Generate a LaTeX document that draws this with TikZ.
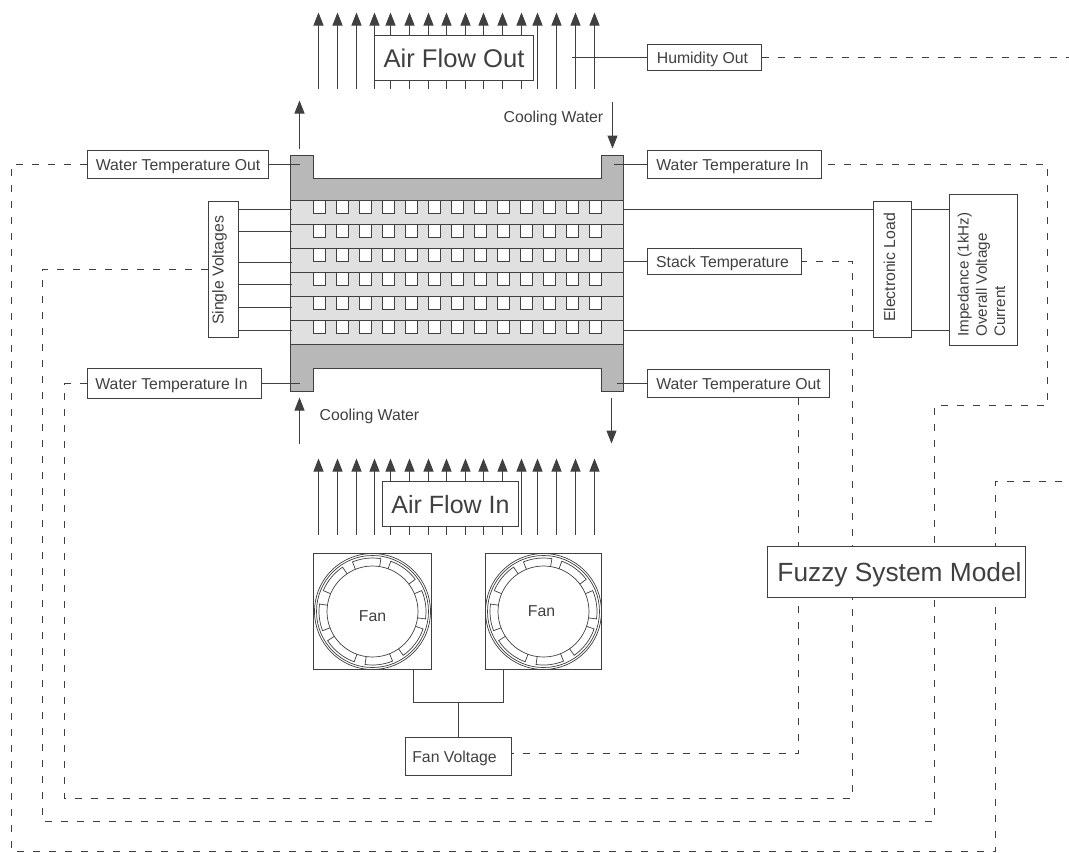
\documentclass[tikz,border=0pt]{standalone}
\usepackage{fontspec}
\setmainfont{Liberation Sans}
\usetikzlibrary{arrows.meta,calc}
\definecolor{ink}{HTML}{404040}
\definecolor{plate}{HTML}{B8B8B8}
\definecolor{cell}{HTML}{E0E0E0}
\newcommand{\smallfs}{\fontsize{15.8}{18.3}\selectfont}
\newcommand{\bigfs}{\fontsize{25.6}{30}\selectfont}
\tikzset{
  line/.style={draw=ink,line width=1pt},
  thinline/.style={draw=ink,line width=0.7pt},
  dashline/.style={draw=ink,line width=1pt,dash pattern=on 7pt off 9pt},
  flow/.style={draw=ink,line width=1pt,-{Triangle[length=13pt,width=10pt]}},
  box/.style={draw=ink,line width=1pt,fill=white,text=ink,inner sep=0pt,font=\smallfs,text height=11pt,text depth=0pt},
  bigbox/.style={box,font=\bigfs,text height=18.4pt},
  lbl/.style={text=ink,inner sep=0pt,font=\smallfs,text height=11pt,text depth=0pt},
}
\newcommand{\sizedbox}[7][box]{% style,name,x1,y1,x2,y2,text
  \node[#1,minimum width=#5pt-#3pt,minimum height=#6pt-#4pt] (#2) at ({(#3+#5)/2},{(#4+#6)/2}) {#7};}
\newcommand{\fanrotor}[2]{%
  \begin{scope}[shift={(#1,#2)},x=1pt,y=1pt]
    \draw[thinline] circle[radius=58];
    \draw[thinline] circle[radius=56];
    \draw[thinline] circle[radius=45.5];
    \foreach \a/\b in {112/81,70/37,23/-8,-19/-55,-68/-98,-110/-147,-159/-188,157/124}{
      \draw[thinline] (\a:45.5) -- (\a:53.5) arc[start angle=\a,end angle=\b,radius=53.5] -- (\b:45.5);
    }
  \end{scope}}
\begin{document}
\begin{tikzpicture}[x=1pt,y=-1pt,shift={(0.5,0.5)}]
\useasboundingbox (-0.5,-0.5) rectangle (1068.5,851.5);
% air flow arrows
\foreach \n/\x in {1/318,2/337,3/356,4/374,5/390,6/409,7/428,8/446,9/465,10/483,11/502,12/521,13/537,14/556,15/575,16/594}{
  \coordinate (ot\n) at (\x,12); \coordinate (ob\n) at (\x,88);
  \coordinate (it\n) at (\x,458); \coordinate (ib\n) at (\x,534);
  \draw[flow] (ob\n) -- (ot\n);
  \draw[flow] (ib\n) -- (it\n);
}
\sizedbox[bigbox]{airout}{374}{35}{533}{80}{Air Flow Out}
\sizedbox[bigbox]{airin}{382}{481}{518}{526}{\fontsize{25}{30}\selectfont Air Flow In}
% stack
\foreach \y in {200,224,248,272,296,320}{
  \fill[cell] (290,\y) rectangle (623,\y+24);
  \foreach \k in {0,...,12}{
    \draw[line,fill=white] (313+23*\k,\y) -- (313+23*\k,\y+13) -- (325+23*\k,\y+13) -- (325+23*\k,\y);
  }
  \draw[line] (290,\y) -- (623,\y);
}
\draw[line] (290,200) -- (290,344) (623,200) -- (623,344);
\draw[line,fill=plate] (290,155) -- (313,155) -- (313,178) -- (601,178) -- (601,155) -- (623,155) -- (623,200) -- (290,200) -- cycle;
\draw[line,fill=plate] (290,391) -- (313,391) -- (313,368) -- (601,368) -- (601,391) -- (623,391) -- (623,344) -- (290,344) -- cycle;
% boxes
\sizedbox{humid}{647}{44}{761}{70}{Humidity Out\hspace*{4pt}}
\sizedbox{wtol}{87}{150}{268}{178}{Water Temperature Out}
\sizedbox{wtir}{647}{150}{821}{178}{Water Temperature In\hspace*{4pt}}
\sizedbox{wtil}{87}{368}{261}{398}{Water Temperature In\hspace*{6pt}}
\sizedbox{wtor}{647}{369}{829}{397}{Water Temperature Out}
\sizedbox{stemp}{647}{248}{801}{274}{Stack Temperature\hspace*{4pt}}
\sizedbox{sv}{208}{201}{238}{337}{}
\node[lbl,rotate=90] (svt) at (217.5,270) {Single Voltages};
\sizedbox{eload}{873}{201}{911}{337}{}
\node[lbl,rotate=90] (eloadt) at (889,267) {Electronic Load};
\sizedbox{imp}{949}{194}{1017}{345}{}
\node[text=ink,inner sep=0pt,font=\fontsize{15.2}{18.3}\selectfont,rotate=90,align=left,anchor=center] (impt) at (981,274) {Impedance (1kHz)\\Overall Voltage\\Current};
\sizedbox{fanv}{405}{737}{511}{775}{Fan Voltage\hspace*{8pt}}
\sizedbox{fanA}{313}{553}{431}{669}{}
\sizedbox{fanB}{485}{553}{601}{669}{}
\fanrotor{372}{611}
\fanrotor{543}{611}
\node[lbl] (fanAl) at (372,615) {Fan};
\node[lbl] (fanBl) at (541,610.5) {Fan};
% labels
\node[lbl] (cw1) at (553,116.5) {Cooling Water};
\node[lbl] (cw2) at (369,414.5) {Cooling Water};
% water arrows
\coordinate (wa1) at (299,148); \coordinate (wa2) at (299,100);
\coordinate (wa3) at (612,101); \coordinate (wa4) at (612,148);
\coordinate (wa5) at (299,443); \coordinate (wa6) at (299,397);
\coordinate (wa7) at (611,397); \coordinate (wa8) at (611,443);
\draw[flow] (wa1) -- (wa2);
\draw[flow] (wa3) -- (wa4);
\draw[flow] (wa5) -- (wa6);
\draw[flow] (wa7) -- (wa8);
% solid connectors
\coordinate (hs) at (571,57);
\draw[line] (humid.west) -- (hs);
\coordinate (pTL) at (299,164); \coordinate (pTR) at (613,164);
\coordinate (pBL) at (299,383); \coordinate (pBR) at (616,383);
\draw[line] (wtol.east) -- (pTL);
\draw[line] (wtir.west) -- (pTR);
\draw[line] (wtil.east) -- (pBL);
\draw[line] (wtor.west) -- (pBR);
\coordinate (st) at (623,261);
\draw[line] (stemp.west) -- (st);
\foreach \y in {209,231,262,284,307,330}{
  \coordinate (sL\y) at (291,\y);
  \draw[line] (sv.east |- sL\y) -- (sL\y);
}
\coordinate (r1) at (623,209); \coordinate (r2) at (623,330);
\draw[line] (r1) -- (eload.west |- r1);
\draw[line] (r2) -- (eload.west |- r2);
\draw[line] (eload.east |- r1) -- (imp.west |- r1);
\draw[line] (eload.east |- r2) -- (imp.west |- r2);
\coordinate (fj) at (458,702);
\coordinate (fa) at (413,669); \coordinate (fb) at (503,669);
\draw[line] (fa) |- (fb |- fj) -- (fb);
\draw[line] (fj) -- (fanv.north);
% dashed connectors
\coordinate (e1) at (1069,57);
\coordinate (e2) at (1069,481);
\draw[dashline] (humid.east) -- (e1);
\draw[dashline] (wtol.west) -- (11,164) -- (11,851) -- (995,851) -- (995,481) -- (e2);
\draw[dashline] (sv.west) -- (42,269) -- (42,821) -- (934,821) -- (934,405) -- (1047,405) -- (1047,164) -- (wtir.east);
\draw[dashline] (wtil.west) -- (64,383) -- (64,798) -- (852,798) -- (852,261) -- (stemp.east);
\coordinate (wv) at (798,753);
\draw[dashline] (wtor.south -| wv) -- (wv) -- (fanv.east |- wv);
\sizedbox[bigbox]{fuzzy}{767}{546}{1025}{597}{\hspace*{6pt}\fontsize{26.3}{30}\selectfont Fuzzy System Model}
\end{tikzpicture}
\end{document}
